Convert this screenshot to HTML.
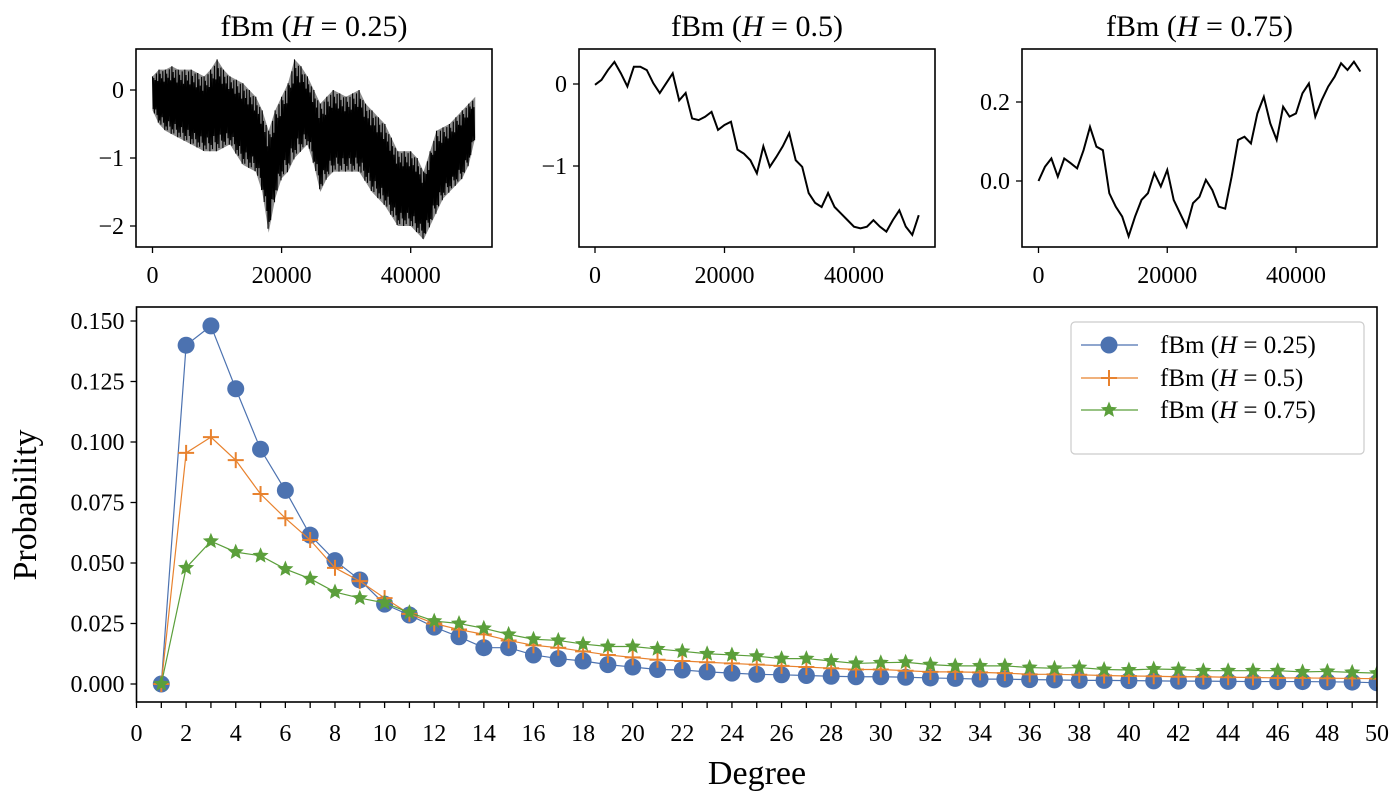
<!DOCTYPE html>
<html><head><meta charset="utf-8"><style>
html,body{margin:0;padding:0;background:#fff;}
svg{display:block;font-family:"Liberation Serif",serif;}
</style></head><body>
<svg id="fig" width="1400" height="800" viewBox="0 0 1400 800" xmlns="http://www.w3.org/2000/svg">
<defs><clipPath id="clipMain"><rect x="136.5" y="307" width="1240.5" height="395"/></clipPath></defs>
</svg>
<script>
// ---- bottom chart data ----
const degrees = Array.from({length:50},(_,i)=>i+1);
const probH025 = [0,.140,.148,.122,.097,.080,.0615,.051,.043,.033,.0285,.0235,.0195,.015,.015,.012,.0105,.0095,.008,.007,.006,.0058,.005,.0045,.004,.0038,.0035,.0032,.003,.003,.0028,.0025,.0023,.002,.002,.0018,.0017,.0015,.0015,.0014,.0013,.0012,.0012,.0011,.001,.001,.001,.0009,.0008,.0005];
const probH05 = [0,.0955,.102,.0925,.0785,.0685,.0595,.048,.0425,.0355,.029,.025,.0225,.0205,.018,.016,.015,.0135,.012,.011,.010,.0095,.009,.0085,.008,.0075,.007,.0065,.006,.006,.0055,.005,.005,.0048,.0045,.004,.004,.0038,.0035,.0033,.0032,.003,.003,.0028,.0027,.0025,.0025,.0024,.0023,.0022];
const probH075 = [0,.048,.059,.0545,.053,.0475,.0435,.038,.0355,.0335,.0295,.026,.025,.023,.0205,.0185,.018,.0165,.0155,.0155,.0145,.0135,.0125,.012,.0115,.0105,.0105,.0095,.0085,.0088,.009,.008,.0075,.0075,.0075,.0068,.0065,.0068,.006,.0058,.0062,.006,.0055,.0055,.0055,.0055,.005,.0052,.0048,.0045];
const yTickVals = [0,.025,.05,.075,.1,.125,.15];
const yTickLabels = ["0.000","0.025","0.050","0.075","0.100","0.125","0.150"];
// ---- top panels data (sampled every 1000 steps) ----
const traceT = Array.from({length:51},(_,i)=>i*1000);
const fbm025Hi = [.2,.3,.3,.35,.3,.3,.3,.25,.2,.3,.45,.3,.2,.15,.1,0,-.1,-.3,-.6,-.3,-.1,.1,.45,.35,.2,0,-.2,-.1,0,-.05,-.1,-.05,0,-.2,-.3,-.4,-.5,-.7,-.9,-.9,-.9,-1.0,-1.2,-.9,-.6,-.55,-.5,-.4,-.3,-.2,-.1];
const fbm025Lo = [-.3,-.5,-.6,-.65,-.7,-.75,-.8,-.85,-.9,-.9,-.9,-.85,-.8,-.95,-1.1,-1.15,-1.2,-1.5,-2.1,-1.6,-1.3,-1.2,-1.0,-.9,-.8,-1.1,-1.5,-1.3,-1.2,-1.2,-1.2,-1.2,-1.2,-1.35,-1.5,-1.6,-1.7,-1.85,-2.0,-2.0,-2.0,-2.1,-2.2,-2.0,-1.8,-1.6,-1.5,-1.4,-1.3,-1.1,-.7];
const fbm05 = [-.01,.05,.17,.27,.13,-.03,.21,.21,.17,.01,-.11,.01,.13,-.2,-.11,-.42,-.44,-.4,-.34,-.56,-.5,-.46,-.8,-.85,-.93,-1.09,-.76,-1.01,-.89,-.76,-.6,-.93,-1.01,-1.33,-1.45,-1.5,-1.33,-1.5,-1.58,-1.66,-1.74,-1.76,-1.74,-1.66,-1.74,-1.8,-1.66,-1.54,-1.74,-1.84,-1.6];
const fbm075 = [0,.036,.057,.011,.057,.045,.032,.078,.137,.087,.078,-.031,-.065,-.09,-.14,-.09,-.048,-.031,.02,-.014,.028,-.048,-.082,-.116,-.056,-.04,.003,-.023,-.065,-.07,.011,.104,.112,.095,.171,.213,.146,.104,.188,.163,.171,.222,.247,.163,.205,.239,.264,.298,.281,.302,.277];

const svgRoot = document.getElementById('fig');
const NS = 'http://www.w3.org/2000/svg';
function mk(tag, attrs, parent){const e=document.createElementNS(NS,tag);for(const k in attrs)e.setAttribute(k,attrs[k]);(parent||svgRoot).appendChild(e);return e;}
function label(txt,x,y,size,anchor,parent){const t=mk('text',{x:x,y:y,'font-size':size,'text-anchor':anchor||'middle',fill:'#000'},parent);t.textContent=txt;return t;}
function title(hval,cx,y){
  const t=mk('text',{x:cx,y:y,'font-size':30,'text-anchor':'middle',fill:'#000'});
  
  
  const a=mk('tspan',{},t);a.textContent='fBm (';
  const b=mk('tspan',{'font-style':'italic'},t);b.textContent='H';
  const c=mk('tspan',{},t);c.textContent=' = '+hval+')';
}

// ---- top panels ----
const panels = [
  {name:'h025', left:136, right:492, x0:152.5, x40:410.7, yA:0, pA:90, yB:-1, pB:158, ticks:[0,-1,-2], tl:['0','\u22121','\u22122'], t:'0.25'},
  {name:'h05', left:579, right:935, x0:595, x40:854, yA:0, pA:84, yB:-1, pB:166, ticks:[0,-1], tl:['0','\u22121'], t:'0.5'},
  {name:'h075', left:1022, right:1377, x0:1038.5, x40:1296, yA:0, pA:181, yB:.2, pB:102, ticks:[0,.2], tl:['0.0','0.2'], t:'0.75'}
];
const panelTop=49, panelBot=247;
const zigPattern=[1,0.15,0.85,0.05,0.7,0.35,0.95,0.2,0.6,0.0];
panels.forEach((p,pi)=>{
  const g=mk('g',{});
  
  
  const sx=v=>p.x0+(v/40000)*(p.x40-p.x0);
  const sy=v=>p.pA+(v-p.yA)/(p.yB-p.yA)*(p.pB-p.pA);
  if(pi===0){
    let pts=traceT.map((t,i)=>sx(t)+','+sy(fbm025Hi[i]));
    let lo=traceT.map((t,i)=>sx(t)+','+sy(fbm025Lo[i])).reverse();
    const env=mk('polygon',{points:pts.concat(lo).join(' '),fill:'#000','fill-opacity':0.45,stroke:'none'},g);
    
    
    let zz=[];
    for(let i=0;i<traceT.length-1;i++){
      const n=10;
      for(let j=0;j<n;j++){
        const f=j/n;
        const t=traceT[i]+f*(traceT[i+1]-traceT[i]);
        const hi=fbm025Hi[i]+f*(fbm025Hi[i+1]-fbm025Hi[i]);
        const lo2=fbm025Lo[i]+f*(fbm025Lo[i+1]-fbm025Lo[i]);
        const w=(j%2===0)?zigPattern[j]:zigPattern[j];
        const v=(j%2===0)? hi-(hi-lo2)*(1-w)*0.5 : lo2+(hi-lo2)*w*0.5;
        zz.push(sx(t).toFixed(1)+','+sy(v).toFixed(1));
      }
    }
    const z=mk('polyline',{points:zz.join(' '),fill:'none',stroke:'#000','stroke-width':1.1},g);
    
    
  } else {
    const arr = pi===1?fbm05:fbm075;
    const l=mk('polyline',{points:traceT.map((t,i)=>sx(t)+','+sy(arr[i])).join(' '),fill:'none',stroke:'#000','stroke-width':2},g);
    
    
  }
  const r=mk('rect',{x:p.left,y:panelTop,width:p.right-p.left,height:panelBot-panelTop,fill:'none',stroke:'#000','stroke-width':1.6},g);
  
  
  [0,20000,40000].forEach(v=>{
    mk('line',{x1:sx(v),x2:sx(v),y1:panelBot,y2:panelBot+6,stroke:'#000','stroke-width':1.3},g);
    const t=label(String(v),sx(v),panelBot+36,24,'middle',g);
    
    
  });
  p.ticks.forEach((v,i)=>{
    mk('line',{x1:p.left-6,x2:p.left,y1:sy(v),y2:sy(v),stroke:'#000','stroke-width':1.3},g);
    const t=label(p.tl[i],p.left-12,sy(v)+8,24,'end',g);
    
    
  });
  title(p.t,(p.left+p.right)/2,36);
});

// ---- bottom chart ----
const L=136.5,R=1377,T=307,B=702;
const X=d=>L+d*(R-L)/50;
const Y=v=>684-v*(684-321)/0.15;
const main=mk('g',{});


const plot=mk('g',{'clip-path':'url(#clipMain)'},main);
const colors=['#4c72b0','#e8822e','#5b9f3b'];
const series=[probH025,probH05,probH075];
const names=['series-h025','series-h05','series-h075'];
function star(cx,cy,r){let s=[];for(let i=0;i<10;i++){const a=-Math.PI/2+i*Math.PI/5;const rr=i%2?r*0.45:r;s.push((cx+rr*Math.cos(a)).toFixed(1)+','+(cy+rr*Math.sin(a)).toFixed(1));}return s.join(' ');}
function marker(k,cx,cy,parent){
  if(k===0){return mk('circle',{cx:cx,cy:cy,r:8.5,fill:colors[0]},parent);}
  if(k===1){const g=mk('g',{stroke:colors[1],'stroke-width':2},parent);mk('line',{x1:cx-8,x2:cx+8,y1:cy,y2:cy},g);mk('line',{x1:cx,x2:cx,y1:cy-8,y2:cy+8},g);return g;}
  return mk('polygon',{points:star(cx,cy,8.5),fill:colors[2]},parent);
}
series.forEach((s,k)=>{
  const g=mk('g',{},plot);
  
  
  mk('polyline',{points:degrees.map((d,i)=>X(d)+','+Y(s[i])).join(' '),fill:'none',stroke:colors[k],'stroke-width':1.2},g);
  degrees.forEach((d,i)=>{const m=marker(k,X(d),Y(s[i]),g);
    
    });
});
const fr=mk('rect',{x:L,y:T,width:R-L,height:B-T,fill:'none',stroke:'#000','stroke-width':1.6},main);


for(let d=0;d<=50;d++){
  mk('line',{x1:X(d),x2:X(d),y1:B,y2:B+6,stroke:'#000','stroke-width':1.3},main);
  if(d%2===0){const t=label(String(d),X(d),B+39,24,'middle',main);
    
    }
}
yTickVals.forEach((v,i)=>{
  mk('line',{x1:L-6,x2:L,y1:Y(v),y2:Y(v),stroke:'#000','stroke-width':1.3},main);
  const t=label(yTickLabels[i],L-12,Y(v)+8,24,'end',main);
  
  
});
const xt=label('Degree',757,784,34,'middle',main);


const yt=label('Probability',0,0,34,'middle',main);
yt.setAttribute('transform','translate(36,505) rotate(-90)');



// legend
const lg=mk('g',{},main);


mk('rect',{x:1071,y:322,width:293,height:132,rx:4,fill:'#fff','fill-opacity':0.85,stroke:'#ccc','stroke-width':1.2},lg);
const lt=['0.25','0.5','0.75'];
[345,378,410].forEach((y,k)=>{
  const e=mk('g',{},lg);
  
  
  mk('line',{x1:1081,x2:1138,y1:y,y2:y,stroke:colors[k],'stroke-width':1.2},e);
  marker(k,1109,y,e);
  const t=mk('text',{x:1160,y:y+8,'font-size':25,fill:'#000'},e);
  const a=mk('tspan',{},t);a.textContent='fBm (';
  const b=mk('tspan',{'font-style':'italic'},t);b.textContent='H';
  const c=mk('tspan',{},t);c.textContent=' = '+lt[k]+')';
});
</script>
</body></html>
